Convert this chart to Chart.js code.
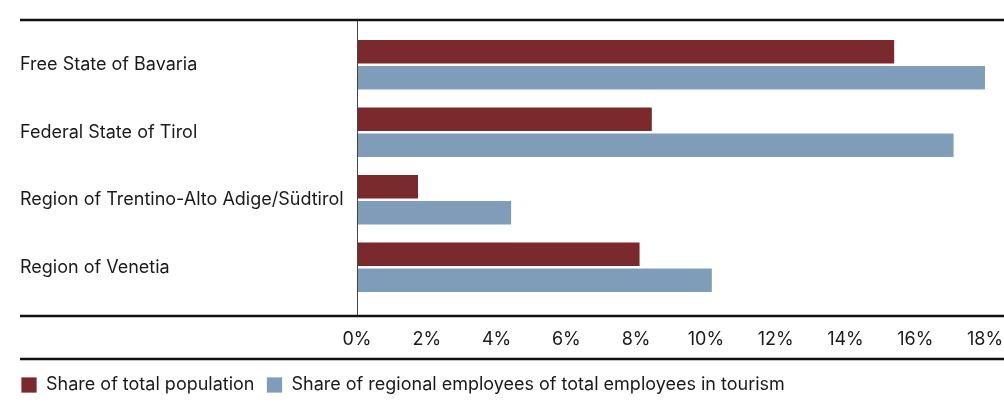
<!DOCTYPE html>
<html>
<head>
<meta charset="utf-8">
<script src="https://cdn.jsdelivr.net/npm/chart.js@4/dist/chart.umd.min.js"></script>
<style>
  html, body { margin: 0; padding: 0; background: #fff; }
  #wrap { width: 1004px; height: 408px; }
</style>
</head>
<body>
<div id="wrap"><canvas id="chart" width="1004" height="408"></canvas></div>
<script>
const regions = [
    'Free State of Bavaria',
    'Federal State of Tirol',
    'Region of Trentino-Alto Adige/Südtirol',
    'Region of Venetia'
];
const populationShare = [15.4, 8.45, 1.75, 8.1];
const tourismShare = [18.05, 17.1, 4.42, 10.17];
const seriesNames = [
    'Share of total population',
    'Share of regional employees of total employees in tourism'
];
const xMin = 0;
const xMax = 18;
const xStep = 2;

const RED = '#7a2a2c';
const BLUE = '#7f9db8';
const FONT = 'Inter, "Noto Sans", sans-serif';
const FONT_SIZE = 18;

// horizontal rules and the zero line
const framePlugin = {
    id: 'frame',
    afterLayout(chart) {
        // legend starts closer to the left edge than the labels
        chart.legend.left -= 11;
        chart.legend.right -= 11;
    },
    afterDraw(chart) {
        const ctx = chart.ctx;
        const area = chart.chartArea;
        const x0 = Math.round(chart.scales.x.getPixelForValue(0));
        const topY = area.top - 11;
        const axisY = area.bottom + 15;
        const legendY = area.bottom + 58;
        ctx.save();
        ctx.strokeStyle = '#444';
        ctx.lineWidth = 1;
        ctx.beginPath();
        ctx.moveTo(x0 + 0.5, topY);
        ctx.lineTo(x0 + 0.5, axisY);
        ctx.stroke();
        ctx.strokeStyle = '#111';
        ctx.lineWidth = 2.5;
        [topY, axisY, legendY].forEach(y => {
            ctx.beginPath();
            ctx.moveTo(20, y);
            ctx.lineTo(chart.width, y);
            ctx.stroke();
        });
        ctx.restore();
    }
};

const ctx = document.getElementById('chart').getContext('2d');
const chart = new Chart(ctx, {
    type: 'bar',
    data: {
        labels: regions,
        datasets: [
            {
                label: seriesNames[0],
                data: populationShare,
                backgroundColor: RED,
                borderColor: '#fff',
                borderWidth: { top: 1.5, bottom: 1.5, left: 0, right: 0 },
                borderSkipped: false,
                barThickness: 26
            },
            {
                label: seriesNames[1],
                data: tourismShare,
                backgroundColor: BLUE,
                borderColor: '#fff',
                borderWidth: { top: 1.5, bottom: 1.5, left: 0, right: 0 },
                borderSkipped: false,
                barThickness: 26
            }
        ]
    },
    options: {
        indexAxis: 'y',
        responsive: false,
        animation: false,
        layout: {
            padding: { left: 20, right: 19, top: 31, bottom: 4 }
        },
        scales: {
            y: {
                grid: { display: false },
                border: { display: false },
                ticks: {
                    crossAlign: 'far',
                    color: '#1a1a1a',
                    font: { family: FONT, size: FONT_SIZE }
                },
                afterFit: scale => { scale.width = 337; }
            },
            x: {
                min: xMin,
                max: xMax,
                grid: { display: false, drawTicks: false },
                border: { display: false },
                ticks: {
                    stepSize: xStep,
                    padding: 28,
                    color: '#1a1a1a',
                    font: { family: FONT, size: FONT_SIZE },
                    callback: v => v + '%'
                },
                afterFit: scale => {
                    scale.height = 63;
                    scale.paddingLeft = 0;
                    scale.paddingRight = 0;
                }
            }
        },
        plugins: {
            legend: {
                position: 'bottom',
                align: 'start',
                labels: {
                    boxWidth: 16,
                    boxHeight: 16,
                    padding: 12,
                    color: '#1a1a1a',
                    font: { family: FONT, size: FONT_SIZE }
                }
            },
            tooltip: { enabled: false }
        }
    },
    plugins: [framePlugin]
});
</script>
</body>
</html>
